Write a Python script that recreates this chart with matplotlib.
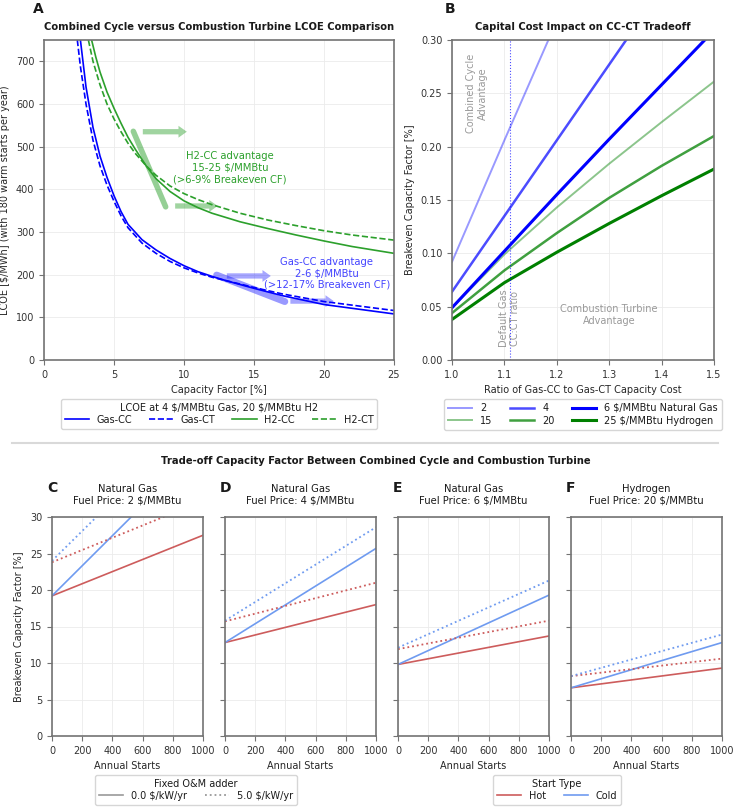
import numpy as np
import matplotlib
matplotlib.use("Agg")
import matplotlib.pyplot as plt
from matplotlib.lines import Line2D
from matplotlib.patches import FancyArrowPatch

# ---- Panel A: LCOE vs capacity factor ----
gas_cc_cf = [2.6, 3.0, 3.5, 4, 4.5, 5, 5.5, 6, 7, 8, 9, 10, 11, 12, 13, 15, 17, 20, 25]
gas_cc_lcoe = [750, 640, 545, 478, 428, 385, 348, 318, 282, 258, 238, 221, 207, 196, 186,
               168, 151, 130, 108]
gas_ct_cf = [2.38, 2.6, 3.0, 3.5, 4, 4.5, 5, 5.5, 6, 7, 8, 9, 10, 11, 12, 13, 15, 17, 20, 25]
gas_ct_lcoe = [750, 688, 600, 515, 455, 410, 372, 338, 310, 274, 250, 231, 216, 204, 194,
               186, 170, 155, 137, 116]
h2_cc_cf = [3.4, 3.7, 4, 4.5, 5, 5.5, 6, 6.5, 7.3, 8, 9, 10, 11, 12, 14, 16, 18, 20, 22, 25]
h2_cc_lcoe = [750, 710, 675, 628, 590, 555, 522, 495, 455, 425, 395, 373, 357, 344, 324,
              308, 293, 279, 266, 250]
h2_ct_cf = [3.17, 3.5, 4, 4.5, 5, 5.5, 6, 6.5, 7.3, 8, 9, 10, 11, 12, 14, 16, 18, 20, 22, 25]
h2_ct_lcoe = [750, 700, 645, 600, 565, 535, 508, 485, 455, 433, 408, 390, 376, 364, 344,
              328, 315, 303, 293, 281]

# ---- Panel B: breakeven CF vs capital cost ratio ----
cost_ratio = [1.0, 1.1, 1.2, 1.3, 1.4, 1.5]
be_gas_2 = [0.092, 0.206, 0.318, 0.428, 0.536, 0.642]
be_gas_4 = [0.064, 0.135, 0.206, 0.277, 0.348, 0.419]
be_gas_6 = [0.049, 0.102, 0.155, 0.207, 0.258, 0.309]
be_h2_15 = [0.049, 0.099, 0.143, 0.184, 0.223, 0.261]
be_h2_20 = [0.044, 0.084, 0.119, 0.152, 0.182, 0.210]
be_h2_25 = [0.038, 0.0725, 0.101, 0.128, 0.154, 0.179]
default_ratio = 1.11

# ---- Panels C-F: breakeven CF vs annual starts ----
starts = [0, 1000]
panel_titles = ["Natural Gas\nFuel Price: 2 $/MMBtu", "Natural Gas\nFuel Price: 4 $/MMBtu",
                "Natural Gas\nFuel Price: 6 $/MMBtu", "Hydrogen\nFuel Price: 20 $/MMBtu"]
panel_letters = ["C", "D", "E", "F"]
hot_0 = [[19.2, 27.5], [12.8, 18.0], [9.8, 13.7], [6.6, 9.3]]
cold_0 = [[19.2, 39.8], [12.8, 25.7], [9.8, 19.3], [6.6, 12.8]]
hot_5 = [[23.8, 32.2], [15.7, 21.0], [11.9, 15.8], [8.2, 10.6]]
cold_5 = [[24.0, 44.4], [15.8, 28.6], [12.1, 21.3], [8.2, 13.9]]

plt.rcParams.update({
    "font.size": 7,
    "axes.edgecolor": "0.45",
    "axes.linewidth": 1.2,
    "xtick.color": "0.45",
    "ytick.color": "0.45",
    "xtick.labelcolor": "0.2",
    "ytick.labelcolor": "0.2",
    "axes.labelcolor": "0.15",
    "text.color": "0.1",
    "legend.fontsize": 7,
})

W, H = 736, 811
fig = plt.figure(figsize=(W / 100, H / 100), dpi=100)


def px_axes(left, top, w, h):
    return fig.add_axes([left / W, 1 - (top + h) / H, w / W, h / H])


def faint_grid(ax):
    ax.grid(True, color="0.92", lw=0.6)
    ax.set_axisbelow(True)


# ---------------- Panel A ----------------
axA = px_axes(44, 40, 350, 320)
faint_grid(axA)
axA.plot(gas_cc_cf, gas_cc_lcoe, color="blue", lw=1.2, label="Gas-CC")
axA.plot(gas_ct_cf, gas_ct_lcoe, color="blue", lw=1.2, ls="--", label="Gas-CT")
axA.plot(h2_cc_cf, h2_cc_lcoe, color="tab:green", lw=1.2, label="H2-CC")
axA.plot(h2_ct_cf, h2_ct_lcoe, color="tab:green", lw=1.2, ls="--", label="H2-CT")
axA.set_xlim(0, 25)
axA.set_ylim(0, 750)
axA.set_yticks(range(0, 701, 100))
axA.set_xlabel("Capacity Factor [%]")
axA.set_ylabel("LCOE [$/MWh] (with 180 warm starts per year)")
axA.set_title("Combined Cycle versus Combustion Turbine LCOE Comparison",
              fontweight="bold", fontsize=7.2, pad=7)

# breakeven bands and arrows
axA.plot([6.38, 8.69], [536, 359], color="tab:green", lw=4, alpha=0.5, solid_capstyle="round")
axA.plot([12.33, 17.2], [199, 137], color="blue", lw=5, alpha=0.4, solid_capstyle="round")
for (x0, x1, y, c) in [(6.86, 10.4, 535, "tab:green"), (9.17, 12.6, 361, "tab:green"),
                       (12.86, 16.4, 197, "blue"), (17.4, 20.9, 138, "blue")]:
    axA.add_patch(FancyArrowPatch((x0, y), (x1, y), mutation_scale=10, lw=0,
                                  arrowstyle="simple,head_width=0.85,head_length=0.6,tail_width=0.38",
                                  color=c, alpha=0.35 if c == "blue" else 0.45))
axA.text(13.3, 450, "H2-CC advantage\n15-25 $/MMBtu\n(>6-9% Breakeven CF)",
         color="tab:green", ha="center", va="center", fontsize=7.2, linespacing=1.2)
axA.text(20.2, 203, "Gas-CC advantage\n2-6 $/MMBtu\n(>12-17% Breakeven CF)",
         color="#4444ff", ha="center", va="center", fontsize=7.2, linespacing=1.2)
axA.legend(loc="upper center", bbox_to_anchor=(0.5, -0.122), ncol=4, borderaxespad=0,
           title="LCOE at 4 \\$/MMBtu Gas, 20 \\$/MMBtu H2", title_fontsize=7,
           handlelength=2.5, columnspacing=1.7, borderpad=0.4, labelspacing=0.2)
fig.text(33 / W, 1 - 9 / H, "A", fontsize=10, fontweight="bold", va="center")

# ---------------- Panel B ----------------
axB = px_axes(452, 40, 262, 320)
faint_grid(axB)
axB.plot(cost_ratio, be_gas_2, color="blue", alpha=0.4, lw=1.4, label="2")
axB.plot(cost_ratio, be_h2_15, color="green", alpha=0.45, lw=1.4, label="15")
axB.plot(cost_ratio, be_gas_4, color="blue", alpha=0.7, lw=1.8, label="4")
axB.plot(cost_ratio, be_h2_20, color="green", alpha=0.75, lw=1.8, label="20")
axB.plot(cost_ratio, be_gas_6, color="blue", alpha=1.0, lw=2.2, label="6 $/MMBtu Natural Gas")
axB.plot(cost_ratio, be_h2_25, color="green", alpha=1.0, lw=2.2, label="25 $/MMBtu Hydrogen")
axB.axvline(default_ratio, color="blue", ls=":", lw=0.8, alpha=0.7)
axB.set_xlim(1.0, 1.5)
axB.set_ylim(0, 0.30)
axB.set_xlabel("Ratio of Gas-CC to Gas-CT Capacity Cost")
axB.set_ylabel("Breakeven Capacity Factor [%]")
axB.set_title("Capital Cost Impact on CC-CT Tradeoff", fontweight="bold", fontsize=7.2, pad=7)
axB.text(1.048, 0.25, "Combined Cycle\nAdvantage", rotation=90, color="0.6",
         ha="center", va="center", fontsize=7)
axB.text(1.11, 0.039, "Default Gas\nCC:CT ratio", rotation=90, color="0.6",
         ha="center", va="center", fontsize=7)
axB.text(1.30, 0.042, "Combustion Turbine\nAdvantage", color="0.6",
         ha="center", va="center", fontsize=7)
axB.legend(loc="upper center", bbox_to_anchor=(0.5, -0.122), ncol=3, borderaxespad=0,
           handlelength=2.5, columnspacing=1.8, borderpad=0.4, labelspacing=0.3)
fig.text(445 / W, 1 - 9 / H, "B", fontsize=10, fontweight="bold", va="center")

# ---------------- separator + section title ----------------
fig.add_artist(Line2D([12 / W, 718 / W], [1 - 443 / H, 1 - 443 / H], color="0.85", lw=1.5))
fig.text(376 / W, 1 - 461 / H,
         "Trade-off Capacity Factor Between Combined Cycle and Combustion Turbine",
         ha="center", va="center", fontweight="bold", fontsize=7.2)

# ---------------- Panels C-F ----------------
hot_color = "#cd5c5c"
cold_color = "#6f9bf0"
lefts = [52, 225, 398, 571]
for i, left in enumerate(lefts):
    ax = px_axes(left, 517, 151, 219)
    faint_grid(ax)
    ax.plot(starts, hot_0[i], color=hot_color, lw=1.2)
    ax.plot(starts, cold_0[i], color=cold_color, lw=1.2)
    ax.plot(starts, hot_5[i], color=hot_color, lw=1.3, ls=":")
    ax.plot(starts, cold_5[i], color=cold_color, lw=1.3, ls=":")
    ax.set_xlim(0, 1000)
    ax.set_ylim(0, 30)
    ax.set_xticks(range(0, 1001, 200))
    ax.set_yticks(range(0, 31, 5))
    ax.set_xlabel("Annual Starts")
    ax.set_title(panel_titles[i], fontsize=7.2, pad=10, linespacing=1.1)
    if i == 0:
        ax.set_ylabel("Breakeven Capacity Factor [%]")
    else:
        ax.set_yticklabels([])
    fig.text((left - 5) / W, 1 - 488 / H, panel_letters[i], fontsize=10,
             fontweight="bold", va="center")

om_handles = [Line2D([], [], color="0.6", lw=1.2, ls="-"),
              Line2D([], [], color="0.6", lw=1.3, ls=":")]
fig.legend(om_handles, ["0.0 $/kW/yr", "5.0 $/kW/yr"], title="Fixed O&M adder",
           title_fontsize=7, loc="upper center", bbox_to_anchor=(196 / W, 1 - 775 / H),
           borderaxespad=0, ncol=2, handlelength=2.5, columnspacing=1.8, borderpad=0.4,
           labelspacing=0.2)
st_handles = [Line2D([], [], color=hot_color, lw=1.2),
              Line2D([], [], color=cold_color, lw=1.2)]
fig.legend(st_handles, ["Hot", "Cold"], title="Start Type", title_fontsize=7,
           loc="upper center", bbox_to_anchor=(557 / W, 1 - 775 / H), borderaxespad=0,
           ncol=2, handlelength=2.5, columnspacing=1.8, borderpad=0.4, labelspacing=0.2)

fig.savefig("out.png", dpi=100)
